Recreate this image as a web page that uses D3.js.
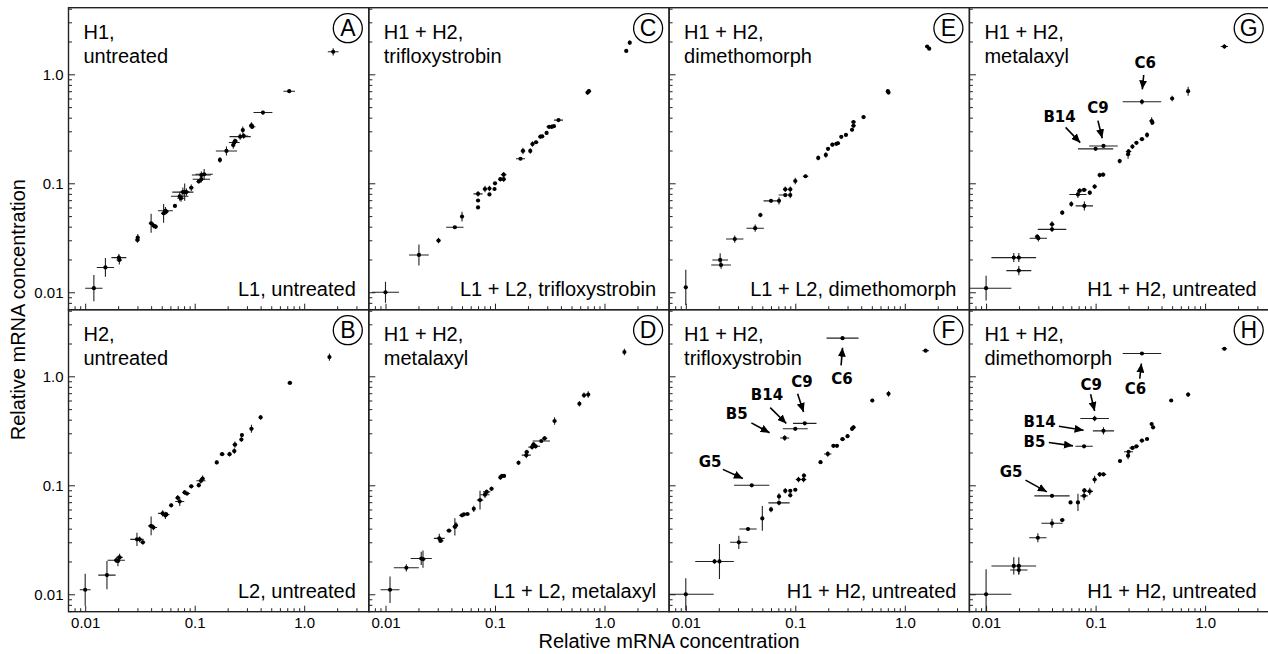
<!DOCTYPE html>
<html>
<head>
<meta charset="utf-8">
<script src="https://cdn.jsdelivr.net/npm/d3@7"></script>
<style>
  body { margin: 0; background: #fff; }
  svg { display: block; font-family: "Liberation Sans", Arial, sans-serif; }
</style>
</head>
<body>
<svg id="chart" width="1268" height="654"></svg>
<script>
// Each point: [x, y, x error factor, y error factor] (bars drawn from v/f to v*f)
const panelA = [
  [0.012,0.0109,1.2,1.32],[0.0153,0.0169,1.2,1.22],[0.0203,0.0208,1.17,1.08],[0.0205,0.0198,1.06,1.1],
  [0.030,0.0302,1.05,1.06],[0.0302,0.0318,1.03,1.08],[0.040,0.043,1.05,1.22],[0.042,0.041,1.04,1.06],
  [0.044,0.040,1.04,1.05],[0.052,0.053,1.05,1.22],[0.054,0.056,1.17,1.08],[0.055,0.055,1.05,1.06],
  [0.066,0.062,1.03,1.03],[0.073,0.076,1.2,1.1],[0.075,0.073,1.08,1.08],[0.078,0.083,1.25,1.1],
  [0.081,0.083,1.1,1.2],[0.084,0.083,1.07,1.08],[0.093,0.091,1.05,1.07],[0.109,0.104,1.05,1.04],
  [0.115,0.109,1.2,1.07],[0.115,0.119,1.22,1.08],[0.122,0.121,1.2,1.12],[0.17,0.164,1.03,1.06],
  [0.195,0.198,1.25,1.1],[0.225,0.224,1.04,1.08],[0.23,0.237,1.12,1.08],[0.235,0.244,1.05,1.05],
  [0.26,0.268,1.25,1.07],[0.28,0.272,1.1,1.06],[0.275,0.308,1.03,1.08],[0.33,0.34,1.05,1.07],
  [0.335,0.33,1.07,1.04],[0.42,0.446,1.22,1.04],[0.73,0.70,1.13,1.01],[1.84,1.61,1.12,1.08]
];
const panelB = [
  [0.010,0.011,1.12,1.4],[0.0158,0.015,1.2,1.35],[0.0192,0.0205,1.2,1.06],[0.0199,0.0202,1.05,1.12],
  [0.0206,0.0218,1.07,1.08],[0.0297,0.0319,1.15,1.15],[0.0314,0.0319,1.05,1.06],[0.0336,0.030,1.05,1.05],
  [0.040,0.0424,1.07,1.22],[0.042,0.041,1.08,1.06],[0.051,0.0552,1.1,1.07],[0.054,0.053,1.06,1.08],
  [0.055,0.054,1.07,1.05],[0.061,0.0655,1.03,1.04],[0.070,0.0767,1.05,1.06],[0.073,0.071,1.1,1.1],
  [0.081,0.086,1.05,1.05],[0.085,0.084,1.07,1.03],[0.093,0.0978,1.05,1.04],[0.109,0.1003,1.03,1.05],
  [0.114,0.11,1.1,1.06],[0.118,0.115,1.05,1.07],[0.159,0.162,1.03,1.04],[0.178,0.193,1.05,1.04],
  [0.208,0.193,1.04,1.05],[0.23,0.206,1.04,1.06],[0.233,0.236,1.05,1.07],[0.267,0.263,1.03,1.05],
  [0.27,0.289,1.02,1.03],[0.33,0.33,1.04,1.09],[0.40,0.42,1.02,1.05],[0.74,0.87,1.05,1.01],
  [1.70,1.50,1.02,1.08]
];
const panelC = [
  [0.010,0.010,1.33,1.25],[0.0202,0.022,1.23,1.25],[0.0305,0.0298,1.04,1.06],[0.043,0.0395,1.2,1.02],
  [0.050,0.0495,1.03,1.11],[0.070,0.060,1.01,1.02],[0.070,0.0695,1.01,1.03],[0.070,0.080,1.1,1.06],
  [0.081,0.0886,1.05,1.07],[0.089,0.079,1.02,1.03],[0.089,0.0896,1.03,1.06],[0.099,0.0886,1.03,1.04],
  [0.10,0.10,1.04,1.03],[0.112,0.109,1.05,1.05],[0.12,0.109,1.05,1.06],[0.12,0.12,1.06,1.06],
  [0.171,0.168,1.1,1.02],[0.18,0.198,1.05,1.07],[0.21,0.198,1.03,1.06],[0.22,0.229,1.04,1.06],
  [0.237,0.238,1.05,1.04],[0.26,0.268,1.05,1.04],[0.27,0.27,1.04,1.03],[0.296,0.29,1.03,1.04],
  [0.312,0.33,1.06,1.04],[0.33,0.33,1.05,1.05],[0.345,0.334,1.04,1.03],[0.38,0.38,1.1,1.03],
  [0.70,0.68,1.03,1.05],[0.72,0.70,1.05,1.05],[1.58,1.64,1.02,1.03],[1.7,1.95,1.03,1.05]
];
const panelD = [
  [0.011,0.011,1.22,1.32],[0.0155,0.0175,1.3,1.08],[0.0212,0.0213,1.25,1.15],[0.022,0.021,1.05,1.2],
  [0.031,0.0326,1.12,1.1],[0.032,0.031,1.06,1.05],[0.038,0.0383,1.06,1.02],[0.043,0.0416,1.05,1.2],
  [0.044,0.043,1.04,1.07],[0.050,0.053,1.06,1.03],[0.052,0.054,1.05,1.03],[0.056,0.0545,1.05,1.02],
  [0.064,0.0608,1.02,1.07],[0.073,0.0731,1.07,1.22],[0.081,0.082,1.1,1.07],[0.084,0.087,1.08,1.05],
  [0.093,0.093,1.04,1.05],[0.112,0.118,1.03,1.05],[0.116,0.122,1.05,1.03],[0.121,0.122,1.03,1.02],
  [0.164,0.161,1.03,1.05],[0.193,0.189,1.1,1.07],[0.195,0.202,1.05,1.05],[0.218,0.224,1.08,1.05],
  [0.225,0.237,1.05,1.05],[0.235,0.228,1.1,1.05],[0.265,0.255,1.2,1.02],[0.284,0.27,1.06,1.05],
  [0.35,0.389,1.04,1.08],[0.59,0.56,1.02,1.06],[0.65,0.67,1.03,1.06],[0.71,0.68,1.02,1.07],
  [1.52,1.67,1.02,1.07]
];
const panelE = [
  [0.010,0.0111,1.01,1.45],[0.0206,0.0198,1.18,1.15],[0.021,0.0178,1.23,1.08],[0.028,0.0308,1.2,1.08],
  [0.043,0.0387,1.2,1.08],[0.048,0.0512,1.04,1.05],[0.060,0.069,1.17,1.02],[0.071,0.069,1.02,1.08],
  [0.081,0.078,1.15,1.04],[0.081,0.088,1.05,1.06],[0.09,0.078,1.03,1.07],[0.09,0.088,1.03,1.06],
  [0.10,0.105,1.04,1.07],[0.124,0.116,1.06,1.03],[0.162,0.171,1.03,1.05],[0.19,0.182,1.03,1.06],
  [0.199,0.207,1.03,1.04],[0.218,0.226,1.04,1.04],[0.237,0.23,1.04,1.03],[0.245,0.233,1.04,1.04],
  [0.263,0.267,1.03,1.04],[0.29,0.278,1.03,1.03],[0.33,0.31,1.03,1.04],[0.34,0.337,1.05,1.03],
  [0.34,0.365,1.05,1.03],[0.42,0.405,1.04,1.04],[0.70,0.70,1.02,1.03],[0.71,0.68,1.02,1.02],
  [1.6,1.8,1.02,1.01],[1.67,1.72,1.01,1.01]
];
const panelF = [
  [0.010,0.010,1.8,1.4],[0.0183,0.020,1.5,1.05],[0.0203,0.020,1.05,1.45],[0.0305,0.030,1.2,1.15],
  [0.037,0.0397,1.2,1.03],[0.050,0.0497,1.03,1.3],[0.060,0.060,1.02,1.06],[0.071,0.069,1.25,1.05],
  [0.071,0.079,1.03,1.07],[0.081,0.089,1.04,1.06],[0.09,0.089,1.03,1.03],[0.09,0.081,1.03,1.05],
  [0.10,0.091,1.04,1.03],[0.107,0.113,1.06,1.06],[0.119,0.113,1.06,1.06],[0.12,0.123,1.04,1.05],
  [0.17,0.163,1.03,1.02],[0.198,0.194,1.08,1.06],[0.223,0.23,1.04,1.04],[0.24,0.23,1.04,1.03],
  [0.27,0.265,1.05,1.04],[0.30,0.282,1.03,1.03],[0.33,0.33,1.04,1.05],[0.34,0.34,1.04,1.04],
  [0.505,0.60,1.02,1.04],[0.71,0.69,1.02,1.06],[1.55,1.72,1.07,1.01],
  [0.04,0.10,1.45,1.01],[0.08,0.272,1.1,1.06],[0.1,0.33,1.3,1.02],[0.122,0.37,1.28,1.03],[0.27,2.24,1.4,1.03]
];
const panelG = [
  [0.010,0.0109,1.7,1.3],[0.0179,0.0208,1.6,1.1],[0.0199,0.0208,1.05,1.1],[0.0199,0.0158,1.3,1.1],
  [0.0293,0.0324,1.05,1.05],[0.030,0.0313,1.2,1.07],[0.040,0.0378,1.35,1.05],[0.040,0.042,1.05,1.07],
  [0.0496,0.0538,1.04,1.05],[0.060,0.0645,1.02,1.06],[0.069,0.079,1.2,1.08],[0.0715,0.0855,1.05,1.05],
  [0.0785,0.087,1.06,1.04],[0.079,0.062,1.2,1.1],[0.0885,0.082,1.04,1.05],[0.098,0.0932,1.04,1.05],
  [0.109,0.119,1.04,1.05],[0.117,0.12,1.05,1.04],[0.166,0.16,1.03,1.05],[0.198,0.185,1.04,1.1],
  [0.2,0.196,1.06,1.05],[0.217,0.217,1.03,1.05],[0.236,0.235,1.04,1.03],[0.265,0.254,1.05,1.02],
  [0.295,0.278,1.02,1.06],[0.325,0.373,1.05,1.08],[0.33,0.36,1.03,1.04],[0.50,0.60,1.01,1.06],
  [0.70,0.70,1.02,1.1],[1.5,1.8,1.08,1.05],
  [0.1,0.207,1.45,1.01],[0.118,0.22,1.35,1.02],[0.265,0.56,1.5,1.06]
];
const panelH = [
  [0.010,0.010,1.7,1.7],[0.0179,0.0182,1.6,1.2],[0.0199,0.0182,1.05,1.2],[0.0199,0.0167,1.2,1.1],
  [0.0297,0.033,1.2,1.1],[0.040,0.0448,1.25,1.1],[0.0496,0.048,1.05,1.03],[0.059,0.0697,1.03,1.01],
  [0.069,0.0697,1.04,1.2],[0.0785,0.080,1.08,1.1],[0.079,0.0897,1.05,1.05],[0.0885,0.088,1.07,1.08],
  [0.098,0.113,1.04,1.08],[0.109,0.126,1.04,1.05],[0.118,0.126,1.06,1.04],[0.167,0.167,1.04,1.04],
  [0.198,0.187,1.04,1.08],[0.2,0.203,1.1,1.04],[0.217,0.22,1.07,1.04],[0.236,0.228,1.05,1.03],
  [0.265,0.257,1.05,1.04],[0.295,0.266,1.03,1.02],[0.325,0.365,1.03,1.03],[0.335,0.34,1.03,1.04],
  [0.49,0.60,1.02,1.02],[0.70,0.68,1.02,1.05],[1.5,1.79,1.06,1.04],
  [0.04,0.080,1.45,1.02],[0.0785,0.228,1.2,1.02],[0.118,0.316,1.25,1.08],[0.098,0.41,1.35,1.06],[0.265,1.62,1.5,1.01]
];

// Annotations: [label, textX, textY, tailX, tailY, tipX, tipY]
const notesF = [
  ["C6", 0.267, 0.953, 0.262, 1.26, 0.27, 1.83],
  ["C9", 0.115, 0.887, 0.105, 0.693, 0.119, 0.471],
  ["B14", 0.0551, 0.670, 0.059, 0.516, 0.0828, 0.369],
  ["B5", 0.0292, 0.455, 0.0397, 0.374, 0.0582, 0.303],
  ["G5", 0.0167, 0.164, 0.0218, 0.140, 0.0332, 0.1155]
];
const notesG = [
  ["C6", 0.284, 1.26, 0.275, 0.986, 0.267, 0.728],
  ["C9", 0.105, 0.488, 0.105, 0.376, 0.115, 0.259],
  ["B14", 0.0469, 0.409, 0.0532, 0.326, 0.0724, 0.236]
];
const notesH = [
  ["C6", 0.231, 0.760, 0.253, 0.953, 0.262, 1.31],
  ["C9", 0.0913, 0.827, 0.090, 0.684, 0.098, 0.481],
  ["B14", 0.0308, 0.382, 0.0462, 0.348, 0.0777, 0.320],
  ["B5", 0.0277, 0.250, 0.0374, 0.247, 0.0621, 0.230],
  ["G5", 0.0169, 0.133, 0.0229, 0.1115, 0.0359, 0.0871]
];

const majorTicks = [0.01, 0.1, 1];
const tickLabels = ["0.01", "0.1", "1.0"];
const minorTicks = [2,3,4,5,6,7,8,9].flatMap(m => [0.001 * m, 0.01 * m, 0.1 * m, m]);

const panels = [
  {id: "A", col: 0, row: 0, data: panelA, top: ["H1,", "untreated"], bottom: "L1, untreated", notes: []},
  {id: "B", col: 0, row: 1, data: panelB, top: ["H2,", "untreated"], bottom: "L2, untreated", notes: []},
  {id: "C", col: 1, row: 0, data: panelC, top: ["H1 + H2,", "trifloxystrobin"], bottom: "L1 + L2, trifloxystrobin", notes: []},
  {id: "D", col: 1, row: 1, data: panelD, top: ["H1 + H2,", "metalaxyl"], bottom: "L1 + L2, metalaxyl", notes: []},
  {id: "E", col: 2, row: 0, data: panelE, top: ["H1 + H2,", "dimethomorph"], bottom: "L1 + L2, dimethomorph", notes: []},
  {id: "F", col: 2, row: 1, data: panelF, top: ["H1 + H2,", "trifloxystrobin"], bottom: "H1 + H2, untreated", notes: notesF},
  {id: "G", col: 3, row: 0, data: panelG, top: ["H1 + H2,", "metalaxyl"], bottom: "H1 + H2, untreated", notes: notesG},
  {id: "H", col: 3, row: 1, data: panelH, top: ["H1 + H2,", "dimethomorph"], bottom: "H1 + H2, untreated", notes: notesH}
];

const left0 = 68.5, top0 = 7.7, pw = 300.3, ph = 302;

const x = d3.scaleLog().domain([0.00704, 3.89]).range([0, pw]);
const y = d3.scaleLog().domain([0.00692, 4.085]).range([ph, 0]);

const svg = d3.select("#chart");

svg.append("defs").append("marker")
    .attr("id", "arrow")
    .attr("markerUnits", "userSpaceOnUse")
    .attr("markerWidth", 9).attr("markerHeight", 8)
    .attr("refX", 9).attr("refY", 4)
    .attr("orient", "auto")
  .append("path")
    .attr("d", "M0,0 L9,4 L0,8 z")
    .attr("fill", "#000");

svg.select("defs").append("clipPath")
    .attr("id", "pclip")
  .append("rect")
    .attr("width", pw).attr("height", ph);

panels.forEach(p => {
    const g = svg.append("g")
        .attr("transform", `translate(${left0 + p.col * pw},${top0 + p.row * ph})`);

    const inY = minorTicks.filter(v => v > y.domain()[0] && v < y.domain()[1]);
    const inX = minorTicks.filter(v => v > x.domain()[0] && v < x.domain()[1]);

    // minor ticks (inward)
    g.append("g").call(d3.axisLeft(y).tickValues(inY).tickSize(-3.5).tickFormat(""))
        .call(a => a.select(".domain").remove());
    g.append("g").attr("transform", `translate(0,${ph})`)
        .call(d3.axisBottom(x).tickValues(inX).tickSize(-3.5).tickFormat(""))
        .call(a => a.select(".domain").remove());

    // major ticks, labels only on outer panels
    g.append("g").call(d3.axisLeft(y).tickValues(majorTicks).tickSize(-6.5).tickPadding(5)
            .tickFormat((d, i) => p.col === 0 ? tickLabels[i] : ""))
        .call(a => a.select(".domain").remove())
        .call(a => a.selectAll("text").attr("font-size", 15).attr("fill", "#000")
            .attr("font-family", "Liberation Sans, Arial, sans-serif"));
    g.append("g").attr("transform", `translate(0,${ph})`)
        .call(d3.axisBottom(x).tickValues(majorTicks).tickSize(-6).tickPadding(6)
            .tickFormat((d, i) => p.row === 1 ? tickLabels[i] : ""))
        .call(a => a.select(".domain").remove())
        .call(a => a.selectAll("text").attr("font-size", 15).attr("fill", "#000")
            .attr("font-family", "Liberation Sans, Arial, sans-serif"));

    g.selectAll(".tick line").attr("stroke", "#222").attr("stroke-width", 1);

    // frame
    g.append("rect").attr("width", pw).attr("height", ph)
        .attr("fill", "none").attr("stroke", "#222").attr("stroke-width", 1.4);

    // error bars and points
    const marks = g.append("g").attr("clip-path", "url(#pclip)");
    marks.selectAll("line.h").data(p.data).enter().append("line")
        .attr("class", "h")
        .attr("x1", d => x(d[0] / d[2])).attr("x2", d => x(d[0] * d[2]))
        .attr("y1", d => y(d[1])).attr("y2", d => y(d[1]))
        .attr("stroke", "#222").attr("stroke-width", 1.1);
    marks.selectAll("line.v").data(p.data).enter().append("line")
        .attr("class", "v")
        .attr("x1", d => x(d[0])).attr("x2", d => x(d[0]))
        .attr("y1", d => y(d[1] / d[3])).attr("y2", d => y(d[1] * d[3]))
        .attr("stroke", "#222").attr("stroke-width", 1.1);
    marks.selectAll("circle").data(p.data).enter().append("circle")
        .attr("cx", d => x(d[0])).attr("cy", d => y(d[1]))
        .attr("r", 2.1).attr("fill", "#000");

    // panel texts
    const tt = g.append("text").attr("x", 15).attr("y", 31)
        .attr("font-size", 20).attr("fill", "#000");
    p.top.forEach((t, i) => tt.append("tspan").attr("x", 15).attr("dy", i ? 24 : 0).text(t));
    g.append("text").attr("x", pw - 13).attr("y", ph - 14)
        .attr("text-anchor", "end").attr("font-size", 20).attr("fill", "#000")
        .text(p.bottom);

    // circled letter
    g.append("circle").attr("cx", pw - 21).attr("cy", 20.5).attr("r", 14.5)
        .attr("fill", "none").attr("stroke", "#000").attr("stroke-width", 1.3);
    g.append("text").attr("x", pw - 21).attr("y", 28.5)
        .attr("text-anchor", "middle").attr("font-size", 23).attr("fill", "#000")
        .text(p.id);

    // annotations
    p.notes.forEach(n => {
        g.append("line")
            .attr("x1", x(n[3])).attr("y1", y(n[4]))
            .attr("x2", x(n[5])).attr("y2", y(n[6]))
            .attr("stroke", "#000").attr("stroke-width", 1.6)
            .attr("marker-end", "url(#arrow)");
        g.append("text")
            .attr("x", x(n[1])).attr("y", y(n[2]))
            .attr("text-anchor", "middle").attr("dominant-baseline", "central")
            .attr("font-family", "DejaVu Sans, sans-serif").attr("font-weight", "bold")
            .attr("font-size", 15).attr("fill", "#000")
            .text(n[0]);
    });
});

// axis titles
svg.append("text")
    .attr("x", left0 + 2 * pw).attr("y", 648)
    .attr("text-anchor", "middle").attr("font-size", 20)
    .text("Relative mRNA concentration");
svg.append("text")
    .attr("transform", `translate(25,${top0 + ph}) rotate(-90)`)
    .attr("text-anchor", "middle").attr("font-size", 20)
    .text("Relative mRNA concentration");
</script>
</body>
</html>
